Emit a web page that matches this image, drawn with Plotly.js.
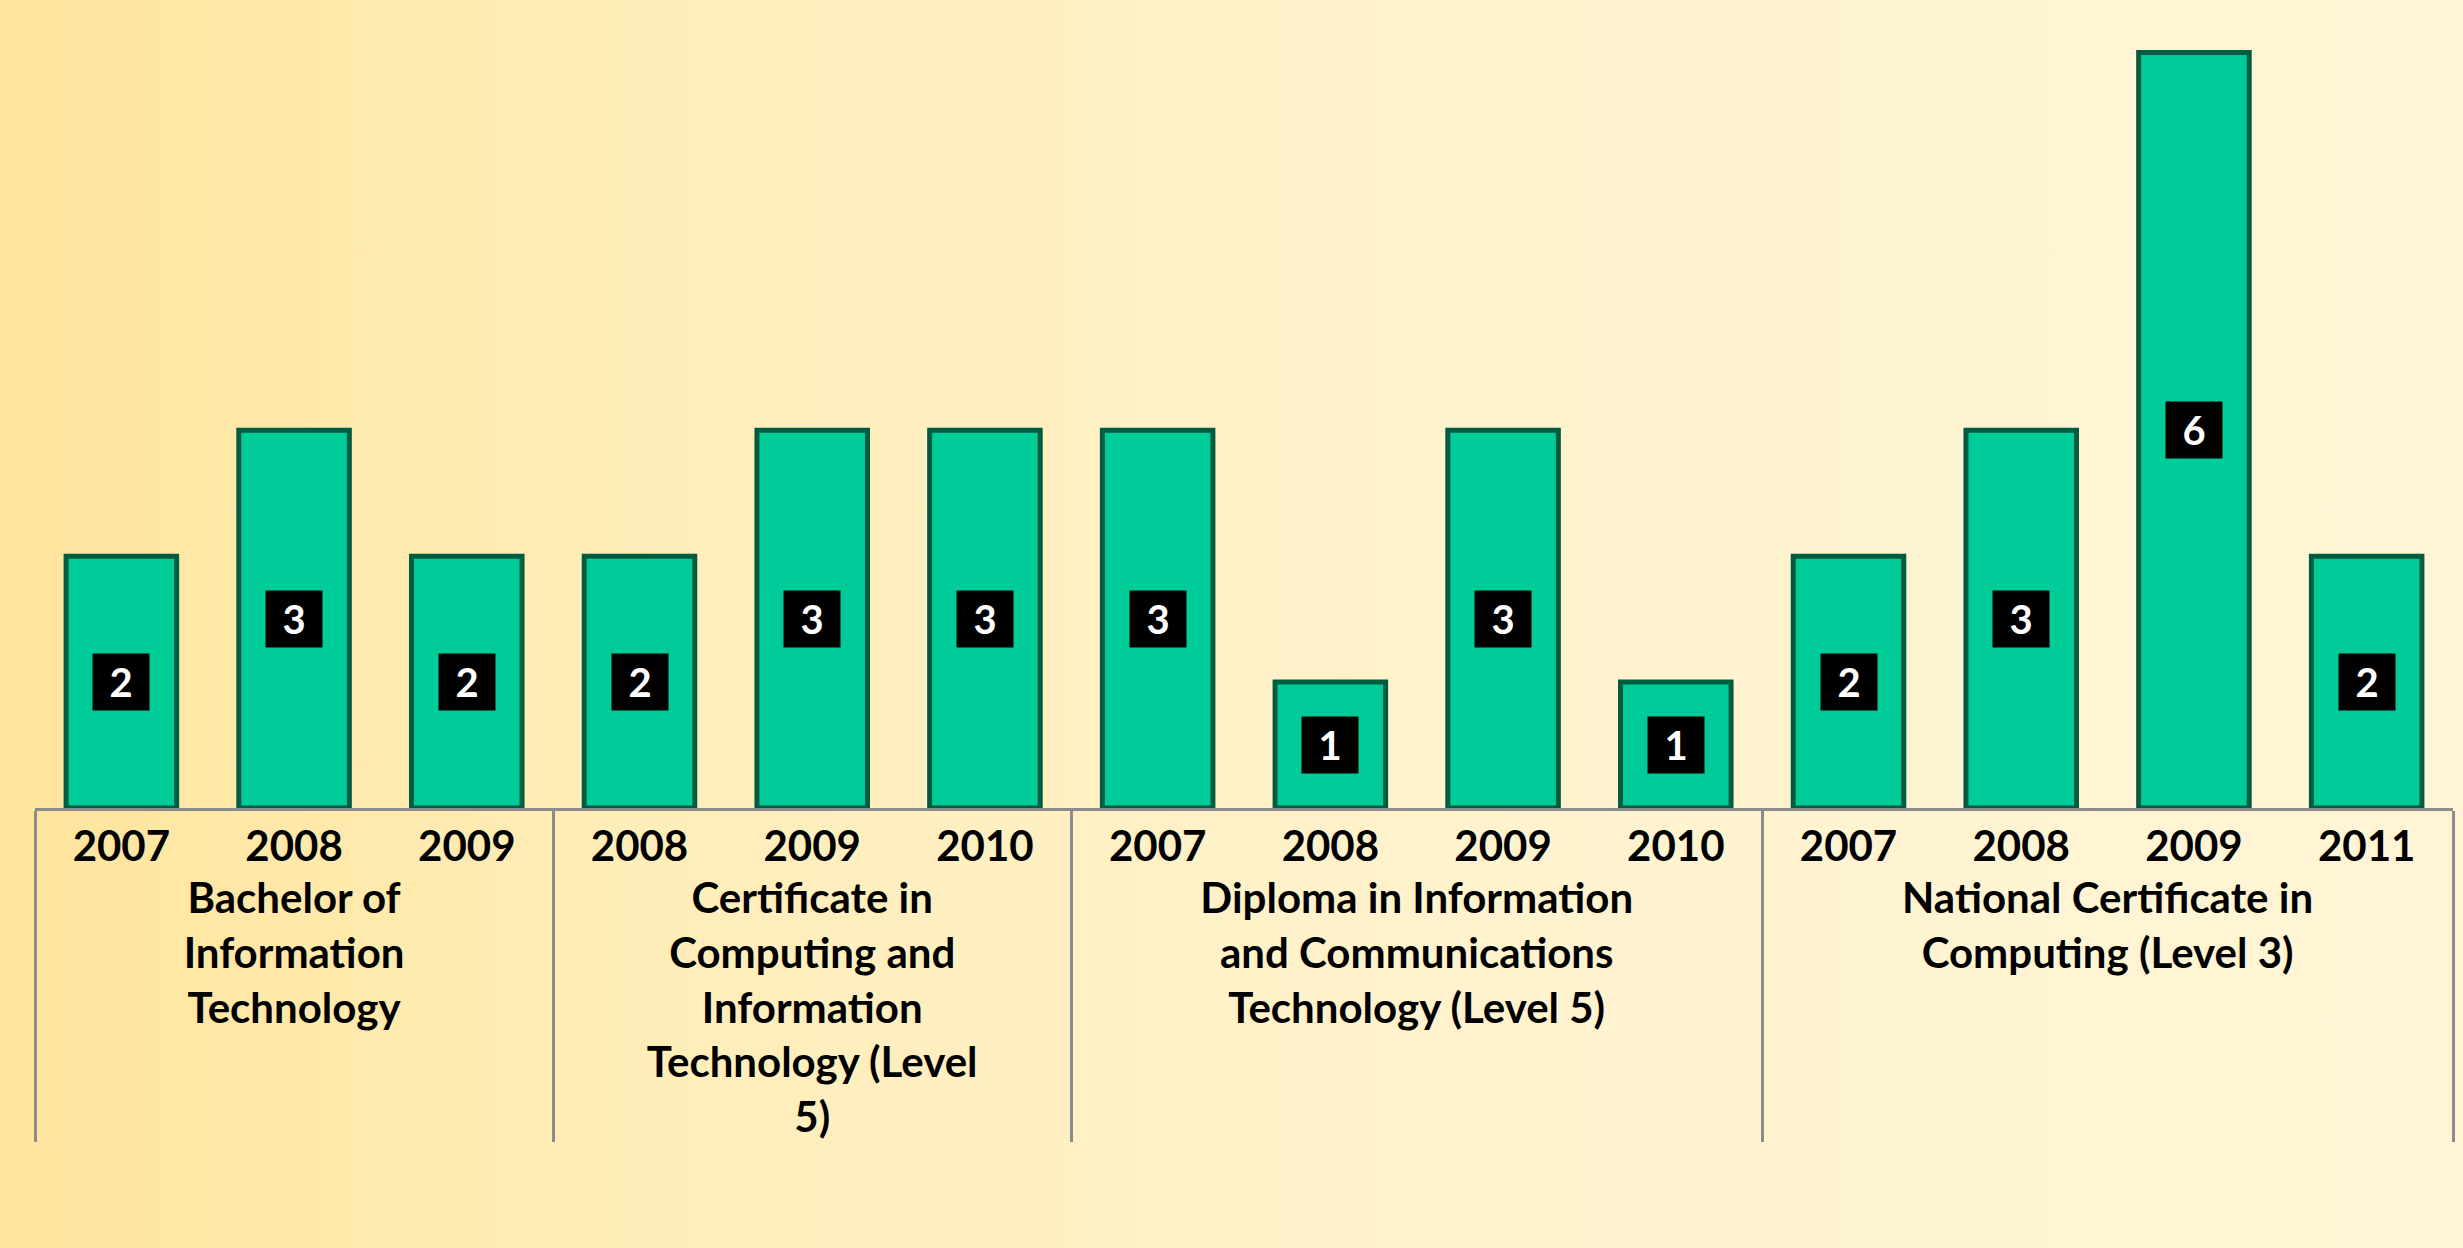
<!DOCTYPE html>
<html>
<head>
<meta charset="utf-8">
<script src="https://cdn.plot.ly/plotly-3.0.1.min.js"></script>
<style>
  html, body { margin:0; padding:0; }
  body { width:2463px; height:1248px; background: linear-gradient(to right, #FEE49C 0%, #FFEDB8 25%, #FFF3CE 60%, #FFF5D6 100%); }
  #chart { width:2463px; height:1248px; }
</style>
</head>
<body>
<div id="chart"></div>
<script>
// Data
var programmes = [
  "Bachelor of<br>Information<br>Technology",
  "Bachelor of<br>Information<br>Technology",
  "Bachelor of<br>Information<br>Technology",
  "Certificate in<br>Computing and<br>Information<br>Technology (Level<br>5)",
  "Certificate in<br>Computing and<br>Information<br>Technology (Level<br>5)",
  "Certificate in<br>Computing and<br>Information<br>Technology (Level<br>5)",
  "Diploma in Information<br>and Communications<br>Technology (Level 5)",
  "Diploma in Information<br>and Communications<br>Technology (Level 5)",
  "Diploma in Information<br>and Communications<br>Technology (Level 5)",
  "Diploma in Information<br>and Communications<br>Technology (Level 5)",
  "National Certificate in<br>Computing (Level 3)",
  "National Certificate in<br>Computing (Level 3)",
  "National Certificate in<br>Computing (Level 3)",
  "National Certificate in<br>Computing (Level 3)"
];
var years = ["2007","2008","2009","2008","2009","2010","2007","2008","2009","2010","2007","2008","2009","2011"];
var counts = [2,3,2,2,3,3,3,1,3,1,2,3,6,2];

var FONT = "Lato, 'Open Sans', sans-serif";

var trace = {
  type: "bar",
  x: [programmes, years],
  y: counts,
  marker: { color: "#00CC99", line: { color: "#005C40", width: 5 } },
  hoverinfo: "none"
};

var annotations = counts.map(function(v, i) {
  return {
    x: i, y: v / 2, xref: "x", yref: "y",
    text: String(v), showarrow: false,
    font: { family: FONT, size: 40, color: "#FFFFFF", weight: "bold" },
    bgcolor: "#000000", borderpad: 0, width: 56, height: 56
  };
});

var layout = {
  width: 2463, height: 1248,
  paper_bgcolor: "rgba(0,0,0,0)",
  plot_bgcolor: "rgba(0,0,0,0)",
  margin: { l: 35, r: 10, t: 40, b: 440 },
  showlegend: false,
  bargap: 0.36,
  font: { family: FONT, color: "#000000" },
  xaxis: {
    type: "multicategory",
    showline: true, linecolor: "#8C8C8C", linewidth: 3,
    showdividers: true, dividercolor: "#8C8C8C", dividerwidth: 3,
    tickfont: { family: FONT, size: 42, color: "#000000", weight: "bold" },
    ticks: "", showgrid: false, zeroline: false
  },
  yaxis: {
    range: [0, 6.1], visible: false, showgrid: false, zeroline: false
  },
  annotations: annotations
};

Plotly.newPlot("chart", [trace], layout, { staticPlot: true, displayModeBar: false });
</script>
</body>
</html>
